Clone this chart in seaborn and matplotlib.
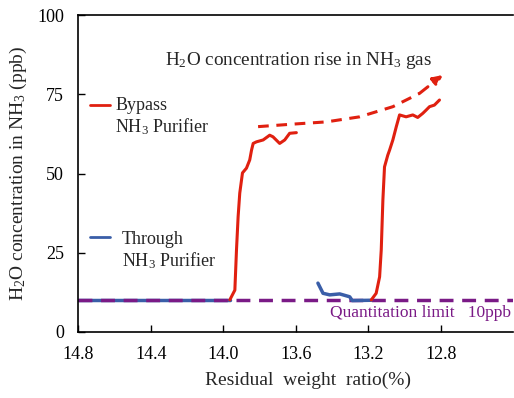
import numpy as np
import pandas as pd
import matplotlib
matplotlib.use("Agg")
import matplotlib.pyplot as plt
import seaborn as sns

# ---- data ----
bypass1_x = [13.964, 13.936, 13.927, 13.918, 13.909, 13.894, 13.872, 13.854, 13.844, 13.835,
             13.817, 13.78, 13.744, 13.726, 13.689, 13.661, 13.634, 13.597]
bypass1_y = [10.1, 13.2, 25.9, 36.4, 43.8, 50.2, 51.7, 54.3, 57.4, 59.5,
             60.0, 60.6, 62.1, 61.6, 59.5, 60.6, 62.7, 62.9]
bypass2_x = [13.184, 13.157, 13.138, 13.129, 13.12, 13.111, 13.093, 13.083, 13.065, 13.046,
             13.028, 12.992, 12.955, 12.928, 12.9, 12.882, 12.863, 12.836, 12.808]
bypass2_y = [10.1, 12.2, 17.4, 25.9, 41.6, 52.1, 55.8, 57.4, 60.6, 64.8,
             68.5, 67.9, 68.5, 67.7, 69.0, 70.0, 71.1, 71.6, 73.2]
through1_x = [14.8, 14.4, 14.0, 13.964]
through1_y = [10.0, 10.0, 10.0, 10.0]
through2_x = [13.478, 13.45, 13.413, 13.358, 13.303, 13.289, 13.184]
through2_y = [15.4, 12.2, 11.7, 12.0, 11.1, 9.9, 10.0]
trend_x = [13.808, 13.615, 13.432, 13.248, 13.065, 12.918, 12.79]
trend_y = [64.8, 65.6, 66.3, 67.9, 71.1, 75.3, 81.1]
limit_x = [14.8, 12.4]
limit_y = [10, 10]
x_ticks = [14.8, 14.4, 14.0, 13.6, 13.2, 12.8]
y_ticks = [0, 25, 50, 75, 100]

sns.set_style("ticks")
plt.rcParams['font.family'] = ['Liberation Serif', 'DejaVu Serif']
plt.rcParams['mathtext.fontset'] = 'custom'
plt.rcParams['mathtext.rm'] = 'Liberation Serif'
plt.rcParams['mathtext.it'] = 'Liberation Serif:italic'

RED = '#e02010'
BLUE = '#3a5ea8'
PURPLE = '#7a1a86'

fig = plt.figure(figsize=(5.14, 3.98), dpi=100)
ax = fig.add_axes([0.152, 0.166, 0.847, 0.796])

kw = dict(sort=False, estimator=None, ax=ax, legend=False)
sns.lineplot(x=through1_x, y=through1_y, color=BLUE, lw=2.5, **kw)
sns.lineplot(x=limit_x, y=limit_y, color=PURPLE, lw=2.5, linestyle=(0, (4, 2.5)), **kw)
sns.lineplot(x=through2_x, y=through2_y, color=BLUE, lw=2.5, **kw)
sns.lineplot(x=bypass1_x, y=bypass1_y, color=RED, lw=2.2, **kw)
sns.lineplot(x=bypass2_x, y=bypass2_y, color=RED, lw=2.2, **kw)
sns.lineplot(x=trend_x[:-1], y=trend_y[:-1], color=RED, lw=2.2, linestyle=(0, (3.5, 2.5)), **kw)
ax.annotate('', xy=(trend_x[-1], trend_y[-1]), xytext=(trend_x[-2], trend_y[-2]),
            arrowprops=dict(arrowstyle='-|>', color=RED, lw=2.2, linestyle=(0, (3.5, 2.5)),
                            mutation_scale=14, shrinkA=0, shrinkB=0))

ax.set_xlim(14.8, 12.4)
ax.set_ylim(0, 100)
ax.set_xticks(x_ticks)
ax.set_xticklabels([f"{v:.1f}" for v in x_ticks])
ax.set_yticks(y_ticks)
ax.tick_params(direction='in', length=5, width=1, labelsize=13, pad=10, colors='black')
for s in ['left', 'bottom', 'top']:
    ax.spines[s].set_linewidth(1.2)
    ax.spines[s].set_color('black')
ax.spines['right'].set_visible(False)

ax.set_xlabel('Residual  weight  ratio(%)', fontsize=14, labelpad=8)
ax.xaxis.set_label_coords(0.528, -0.125)
ax.set_ylabel('H$_2$O concentration in NH$_3$ (ppb)', fontsize=14, labelpad=6)

ax.text(0.2, 0.858, 'H$_2$O concentration rise in NH$_3$ gas', transform=ax.transAxes,
        fontsize=13.8, ha='left', va='center')

# legend-like annotations
ax.plot([0.0275, 0.073], [0.716, 0.716], transform=ax.transAxes, color=RED, lw=2)
ax.text(0.085, 0.716, 'Bypass', transform=ax.transAxes, fontsize=13, va='center')
ax.text(0.085, 0.647, 'NH$_3$ Purifier', transform=ax.transAxes, fontsize=13, va='center')
ax.plot([0.0275, 0.073], [0.30, 0.30], transform=ax.transAxes, color=BLUE, lw=2)
ax.text(0.10, 0.293, 'Through', transform=ax.transAxes, fontsize=13, va='center')
ax.text(0.10, 0.224, 'NH$_3$ Purifier', transform=ax.transAxes, fontsize=13, va='center')

ax.text(0.995, 0.06, 'Quantitation limit   10ppb', transform=ax.transAxes, fontsize=12.5,
        color=PURPLE, ha='right', va='center')

fig.savefig('out.png', dpi=100)
